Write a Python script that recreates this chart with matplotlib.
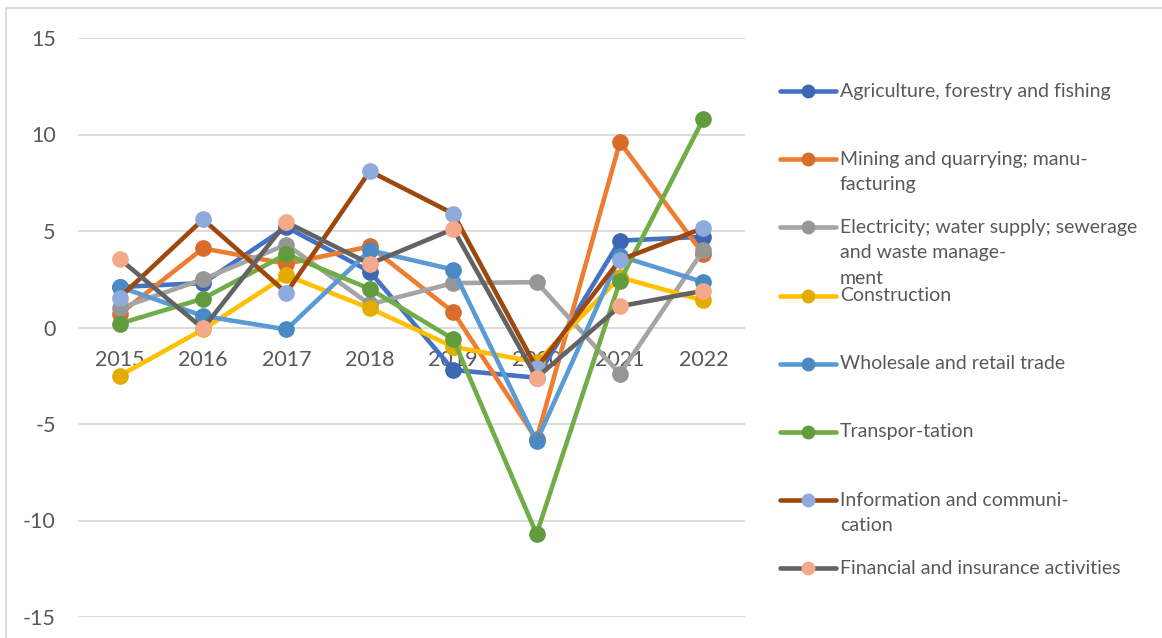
import matplotlib.pyplot as plt
from matplotlib.lines import Line2D
from matplotlib.patches import Rectangle

plt.rcParams['font.family'] = ['Lato', 'DejaVu Sans']

years = ['2015', '2016', '2017', '2018', '2019', '2020', '2021', '2022']

agriculture = [2.1, 2.3, 5.2, 2.9, -2.2, -2.6, 4.5, 4.7]
mining = [0.7, 4.1, 3.3, 4.2, 0.8, -5.8, 9.6, 3.8]
electricity = [1.0, 2.5, 4.3, 1.2, 2.3, 2.35, -2.4, 4.0]
construction = [-2.5, -0.1, 2.7, 1.0, -1.0, -1.8, 2.6, 1.4]
wholesale = [2.1, 0.6, -0.1, 4.0, 3.0, -5.9, 3.7, 2.35]
transport = [0.2, 1.5, 3.8, 2.0, -0.6, -10.7, 2.4, 10.8]
information = [1.55, 5.6, 1.8, 8.1, 5.9, -2.1, 3.5, 5.15]
financial = [3.55, -0.05, 5.45, 3.3, 5.1, -2.6, 1.1, 1.9]

labels = ['Agriculture, forestry and fishing',
          'Mining and quarrying; manu-\nfacturing',
          'Electricity; water supply; sewerage\nand waste manage-\nment',
          'Construction',
          'Wholesale and retail trade',
          'Transpor-tation',
          'Information and communi-\ncation',
          'Financial and insurance activities']
values = [agriculture, mining, electricity, construction, wholesale, transport, information, financial]
line_colors = ['#4472C4', '#ED7D31', '#A5A5A5', '#FFC000', '#5B9BD5', '#70AD47', '#9E480E', '#636363']
marker_colors = ['#3D67B2', '#D86C2A', '#969696', '#E3AC00', '#4A89C2', '#629B3D', '#8FAADC', '#F4AA8A']

W, H = 1162, 638
fig = plt.figure(figsize=(W / 100, H / 100), dpi=100)
ax = fig.add_axes([78 / W, 1 - 617 / H, (745 - 78) / W, (617 - 38) / H])

x = list(range(len(years)))
for vals, lc, mc in zip(values, line_colors, marker_colors):
    ax.plot(x, vals, color=lc, lw=3.3, marker='o', ms=11, mfc=mc, mec=mc,
            solid_capstyle='round', solid_joinstyle='round', clip_on=False)

ax.set_ylim(-15, 15)
ax.set_xlim(-0.5, len(years) - 0.5)
ax.set_yticks([-15, -10, -5, 0, 5, 10, 15])
ax.set_yticklabels(['-15', '-10', '-5', '0', '5', '10', '15'])
ax.yaxis.grid(True, color='#D9D9D9', lw=1.3)
ax.set_axisbelow(True)
for s in ax.spines.values():
    s.set_visible(False)
ax.spines['bottom'].set_position(('data', 0))
ax.set_xticks(x)
ax.set_xticklabels(years)
ax.tick_params(axis='x', length=0, pad=16.5, labelsize=15.5, labelcolor='#595959')
ax.tick_params(axis='y', length=0, pad=16, labelsize=15.5, labelcolor='#595959')

# legend, drawn by hand so the handle sits on the first text line
for i, (lab, lc, mc) in enumerate(zip(labels, line_colors, marker_colors)):
    yc = 1 - (91 + i * 68.2) / H
    fig.add_artist(Line2D([780 / W, 836 / W], [yc, yc], color=lc, lw=3.3,
                          solid_capstyle='round', transform=fig.transFigure))
    fig.add_artist(Line2D([808 / W], [yc], color=mc, marker='o', ms=9,
                          transform=fig.transFigure))
    for k, part in enumerate(lab.split('\n')):
        fig.text(840 / W, yc - k * 25.5 / H, part, ha='left', va='center',
                 fontsize=14, color='#595959')

fig.add_artist(Rectangle((6 / W, -0.1), 1.2, 1 - 8 / H + 0.1, fill=False,
                         edgecolor='#D9D9D9', lw=1.3, transform=fig.transFigure))

fig.savefig('out.png', dpi=100)
